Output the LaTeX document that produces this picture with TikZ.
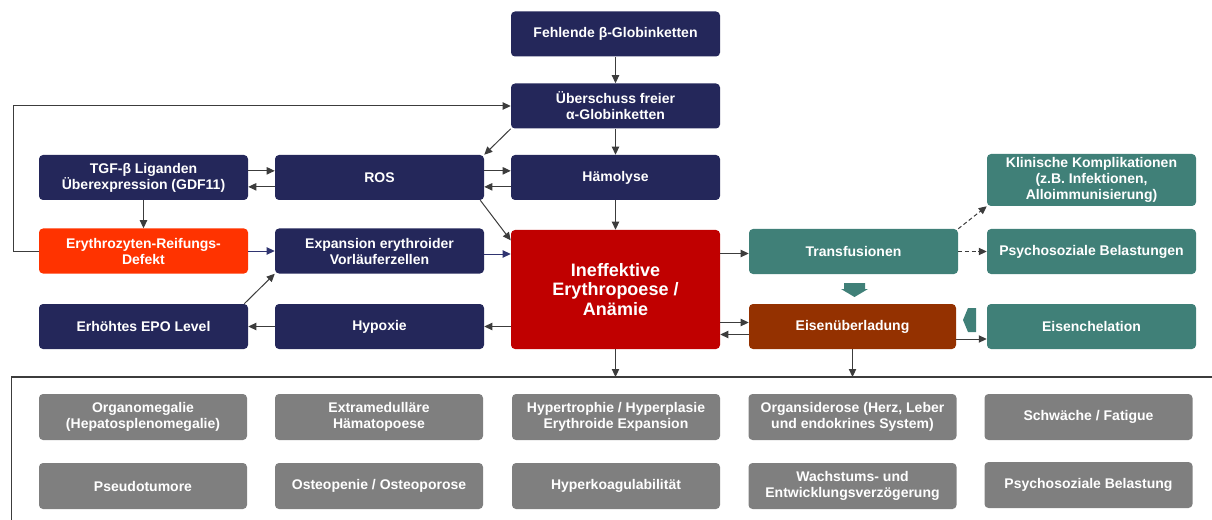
\documentclass[tikz,border=0pt]{standalone}
\usepackage{fontspec}
\setmainfont{Liberation Sans}
\usetikzlibrary{arrows.meta,calc}
\definecolor{navy}{RGB}{36,39,90}
\definecolor{mainred}{RGB}{192,0,0}
\definecolor{orangered}{RGB}{255,51,0}
\definecolor{tealgreen}{RGB}{64,128,120}
\definecolor{rust}{RGB}{148,49,0}
\definecolor{boxgray}{RGB}{127,127,127}
\definecolor{arrowgray}{RGB}{60,60,60}
\definecolor{navyline}{RGB}{47,52,112}
\begin{document}
\begin{tikzpicture}[x=0.75pt, y=-0.75pt,
    box/.style={rounded corners=3pt, inner sep=0pt, minimum width=156.75pt,
      minimum height=33.75pt, align=center, text=white,
      font=\bfseries\fontsize{10.5}{12}\selectfont},
    navybox/.style={box, fill=navy},
    tealbox/.style={box, fill=tealgreen},
    graybox/.style={box, fill=boxgray, minimum width=156pt, minimum height=34.5pt},
    arr/.style={draw=arrowgray, line width=0.75pt, -{Triangle[length=6pt,width=5.5pt]}},
    navyarr/.style={arr, draw=navyline}]
  \useasboundingbox (0,0) rectangle (1212,520);
  % upper chain
  \node[navybox] (beta) at (615.5, 34) {Fehlende β-Globinketten};
  \node[navybox] (alpha) at (615.5, 106) {Überschuss freier\\α-Globinketten};
  \node[navybox] (tgf) at (143.5, 177.5) {TGF-β Liganden\\Überexpression (GDF11)};
  \node[navybox] (ros) at (379.5, 177.5) {ROS};
  \node[navybox] (haem) at (615.5, 177.5) {Hämolyse};
  \node[box, fill=orangered] (defekt) at (143.5, 251) {Erythrozyten-Reifungs-\\Defekt};
  \node[navybox] (expan) at (379.5, 251) {Expansion erythroider\\Vorläuferzellen};
  \node[box, fill=mainred, minimum height=89.25pt,
    font=\bfseries\fontsize{13.5}{14.5}\selectfont] (ineff) at (615.5, 289.5) {Ineffektive\\Erythropoese /\\Anämie};
  \node[navybox] (epo) at (143.5, 326.5) {Erhöhtes EPO Level};
  \node[navybox] (hypox) at (379.5, 326.5) {Hypoxie};
  % transfusion side
  \node[tealbox] (transf) at (853.5, 251.5) {Transfusionen};
  \node[box, fill=rust, minimum width=155.25pt] (eisen) at (852.5, 326.5) {Eisenüberladung};
  \node[tealbox, minimum height=39pt] (klin) at (1091.5, 180) {Klinische Komplikationen\\(z.B. Infektionen,\\Alloimmunisierung)};
  \node[tealbox] (psych) at (1091.5, 251.5) {Psychosoziale Belastungen};
  \node[tealbox] (chel) at (1091.5, 326.5) {Eisenchelation};
  % consequences
  \node[graybox] (organo) at (143, 417) {Organomegalie\\(Hepatosplenomegalie)};
  \node[graybox] (extra) at (379, 417) {Extramedulläre\\Hämatopoese};
  \node[graybox] (hyper) at (616, 417) {Hypertrophie / Hyperplasie\\Erythroide Expansion};
  \node[graybox] (sidero) at (852.5, 417) {Organsiderose (Herz, Leber\\und endokrines System)};
  \node[graybox] (fatigue) at (1088.5, 417) {Schwäche / Fatigue};
  \node[graybox] (pseudo) at (143, 486) {Pseudotumore};
  \node[graybox] (osteo) at (379, 486) {Osteopenie / Osteoporose};
  \node[graybox] (koag) at (616, 486) {Hyperkoagulabilität};
  \node[graybox] (wachs) at (852.5, 486) {Wachstums- und\\Entwicklungsverzögerung};
  \node[graybox] (psybel) at (1088.5, 485) {Psychosoziale Belastung};
  % frame
  \coordinate (frame) at (11, 377);
  \draw[arrowgray, line width=0.75pt] (11, 520) -- (frame);
  \draw[arrowgray, line width=1.5pt] (frame) -- (1212, 377);
  % arrows
  \draw[arr] (beta) -- (alpha);
  \draw[arr] (alpha) -- (haem);
  \draw[arr] (alpha.south west) -- (ros.north east);
  \draw[arr] ([yshift=5pt]tgf.east) -- ([yshift=5pt]ros.west);
  \draw[arr] ([yshift=-7pt]ros.west) -- ([yshift=-7pt]tgf.east);
  \draw[arr] ([yshift=5pt]ros.east) -- ([yshift=5pt]haem.west);
  \draw[arr] ([yshift=-7pt]haem.west) -- ([yshift=-7pt]ros.east);
  \draw[arr] (tgf) -- (defekt);
  \draw[arr] ([xshift=-3pt]ros.south east) -- ([yshift=-8pt]ineff.north west);
  \draw[arr] (haem) -- (ineff);
  \draw[arr] (defekt.west) -- ++(-25, 0) |- (alpha.west);
  \draw[navyarr] (defekt) -- (expan);
  \draw[navyarr] ($(expan.east)+(0, 3)$) -- ($(expan.east -| ineff.west)+(0, 3)$);
  \draw[arr] ([xshift=-3pt]epo.north east) -- (expan.south west);
  \draw[arr] (hypox) -- (epo);
  \draw[arr] (hypox.east -| ineff.west) -- (hypox.east);
  \draw[arr] ($(transf.west -| ineff.east)+(0, 2)$) -- ($(transf.west)+(0, 2)$);
  \draw[arr] ($(eisen.west -| ineff.east)+(0, -4)$) -- ($(eisen.west)+(0, -4)$);
  \draw[arr] ($(eisen.west)+(0, 8)$) -- ($(eisen.west -| ineff.east)+(0, 8)$);
  \draw[arr, dash pattern=on 3pt off 2pt] (transf.north east) -- (klin.south west);
  \draw[arr, dash pattern=on 3pt off 2pt] (transf) -- (psych);
  \draw[arr] ($(eisen.east)+(0, 12.5)$) -- ($(chel.west)+(0, 12.5)$);
  \draw[arr] (ineff) -- (ineff.south |- frame);
  \draw[arr] (eisen) -- (eisen.south |- frame);
  % block arrows
  \fill[tealgreen] (844, 283) -- (865, 283) -- (865, 289) -- (868, 289) -- (854.5, 297)
    -- (841, 289) -- (844, 289) -- cycle;
  \fill[tealgreen] (976, 308) -- (976, 332) -- (968, 332) -- (963, 320) -- (968, 308) -- cycle;
\end{tikzpicture}
\end{document}
